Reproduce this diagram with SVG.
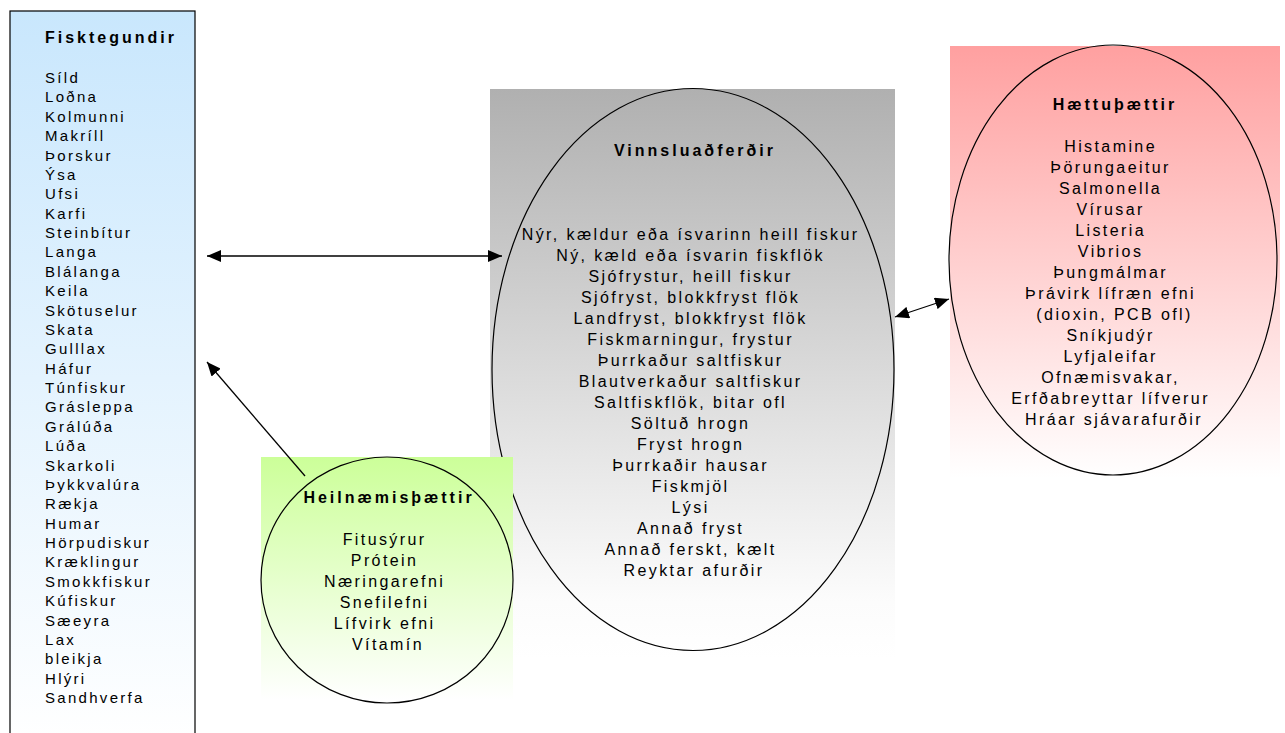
<svg xmlns="http://www.w3.org/2000/svg" width="1285" height="733" viewBox="0 0 1285 733">
<defs>
<linearGradient id="gBlue" x1="0" y1="0" x2="0" y2="1"><stop offset="0" stop-color="#c9e7fd"/><stop offset="1" stop-color="#ffffff"/></linearGradient>
<linearGradient id="gGray" x1="0" y1="0" x2="0" y2="1"><stop offset="0" stop-color="#b0b0b0"/><stop offset="0.9" stop-color="#fcfcfc"/><stop offset="1" stop-color="#ffffff"/></linearGradient>
<linearGradient id="gPink" x1="0" y1="0" x2="0" y2="1"><stop offset="0" stop-color="#ffa0a0"/><stop offset="1" stop-color="#ffffff"/></linearGradient>
<linearGradient id="gGreen" x1="0" y1="0" x2="0" y2="1"><stop offset="0" stop-color="#ccff99"/><stop offset="1" stop-color="#ffffff"/></linearGradient>
<marker id="ah" markerUnits="userSpaceOnUse" markerWidth="14" markerHeight="12" refX="14" refY="6" orient="auto-start-reverse"><path d="M0,0 L14,6 L0,12 z" fill="#000"/></marker>
<style>
text{font-family:"Liberation Sans",Arial,sans-serif;fill:#000}
.t{font-size:16px;font-weight:bold;letter-spacing:3px}
.b{font-size:16px;letter-spacing:2.4px}
.s{font-size:15px;letter-spacing:2.3px}
.c{text-anchor:middle}
.out{fill:none;stroke:#000;stroke-width:1.2}
.con{fill:none;stroke:#000;stroke-width:1.3;marker-end:url(#ah)}
.dbl{marker-start:url(#ah)}
</style>
</defs>

<g id="fisktegundir">
<rect x="10" y="11" width="185" height="735" fill="url(#gBlue)" stroke="#000" stroke-width="1.2"/>
<text class="t" x="45" y="43">Fisktegundir</text>
<text class="s">
<tspan x="45" y="83">Síld</tspan>
<tspan x="45" y="102.4">Loðna</tspan>
<tspan x="45" y="121.8">Kolmunni</tspan>
<tspan x="45" y="141.1">Makríll</tspan>
<tspan x="45" y="160.5">Þorskur</tspan>
<tspan x="45" y="179.9">Ýsa</tspan>
<tspan x="45" y="199.3">Ufsi</tspan>
<tspan x="45" y="218.6">Karfi</tspan>
<tspan x="45" y="238">Steinbítur</tspan>
<tspan x="45" y="257.4">Langa</tspan>
<tspan x="45" y="276.8">Blálanga</tspan>
<tspan x="45" y="296.1">Keila</tspan>
<tspan x="45" y="315.5">Skötuselur</tspan>
<tspan x="45" y="334.9">Skata</tspan>
<tspan x="45" y="354.3">Gulllax</tspan>
<tspan x="45" y="373.6">Háfur</tspan>
<tspan x="45" y="393">Túnfiskur</tspan>
<tspan x="45" y="412.4">Grásleppa</tspan>
<tspan x="45" y="431.8">Grálúða</tspan>
<tspan x="45" y="451.1">Lúða</tspan>
<tspan x="45" y="470.5">Skarkoli</tspan>
<tspan x="45" y="489.9">Þykkvalúra</tspan>
<tspan x="45" y="509.3">Rækja</tspan>
<tspan x="45" y="528.6">Humar</tspan>
<tspan x="45" y="548">Hörpudiskur</tspan>
<tspan x="45" y="567.4">Kræklingur</tspan>
<tspan x="45" y="586.8">Smokkfiskur</tspan>
<tspan x="45" y="606.1">Kúfiskur</tspan>
<tspan x="45" y="625.5">Sæeyra</tspan>
<tspan x="45" y="644.9">Lax</tspan>
<tspan x="45" y="664.3">bleikja</tspan>
<tspan x="45" y="683.6">Hlýri</tspan>
<tspan x="45" y="703">Sandhverfa</tspan>
</text>
</g>

<g id="vinnsluadferdir">
<rect x="490" y="89" width="405" height="570" fill="url(#gGray)"/>
<ellipse class="out" cx="693" cy="369.5" rx="201" ry="281"/>
<text class="t c" x="695" y="156">Vinnsluaðferðir</text>
<text class="b c">
<tspan x="694" y="240">Nýr, kældur eða ísvarinn heill fiskur</tspan>
<tspan x="694" y="261">Ný, kæld eða ísvarin fiskflök</tspan>
<tspan x="694" y="282">Sjófrystur, heill fiskur</tspan>
<tspan x="694" y="303">Sjófryst, blokkfryst flök</tspan>
<tspan x="694" y="324">Landfryst, blokkfryst flök</tspan>
<tspan x="694" y="345">Fiskmarningur, frystur</tspan>
<tspan x="694" y="366">Þurrkaður saltfiskur</tspan>
<tspan x="694" y="387">Blautverkaður saltfiskur</tspan>
<tspan x="694" y="408">Saltfiskflök, bitar ofl</tspan>
<tspan x="694" y="429">Söltuð hrogn</tspan>
<tspan x="694" y="450">Fryst hrogn</tspan>
<tspan x="694" y="471">Þurrkaðir hausar</tspan>
<tspan x="694" y="492">Fiskmjöl</tspan>
<tspan x="694" y="513">Lýsi</tspan>
<tspan x="694" y="534">Annað fryst</tspan>
<tspan x="694" y="555">Annað ferskt, kælt</tspan>
<tspan x="694" y="576">Reyktar afurðir</tspan>
</text>
</g>

<g id="haettuthaettir">
<rect x="950" y="46" width="330" height="432" fill="url(#gPink)"/>
<ellipse class="out" cx="1113" cy="260" rx="164" ry="215"/>
<text class="t c" x="1115" y="110">Hættuþættir</text>
<text class="b c">
<tspan x="1114" y="152">Histamine</tspan>
<tspan x="1114" y="173">Þörungaeitur</tspan>
<tspan x="1114" y="194">Salmonella</tspan>
<tspan x="1114" y="215">Vírusar</tspan>
<tspan x="1114" y="236">Listeria</tspan>
<tspan x="1114" y="257">Vibrios</tspan>
<tspan x="1114" y="278">Þungmálmar</tspan>
<tspan x="1114" y="299">Þrávirk lífræn efni</tspan>
<tspan x="1118" y="320">(dioxin, PCB ofl)</tspan>
<tspan x="1114" y="341">Sníkjudýr</tspan>
<tspan x="1114" y="362">Lyfjaleifar</tspan>
<tspan x="1114" y="383">Ofnæmisvakar,</tspan>
<tspan x="1114" y="404">Erfðabreyttar lífverur</tspan>
<tspan x="1114" y="425">Hráar sjávarafurðir</tspan>
</text>
</g>

<g id="heilnaemisthaettir">
<rect x="261" y="457" width="252" height="243" fill="url(#gGreen)"/>
<ellipse class="out" cx="387" cy="580" rx="126" ry="123"/>
<text class="t c" x="389" y="503">Heilnæmisþættir</text>
<text class="b c">
<tspan x="388" y="545">Fitusýrur</tspan>
<tspan x="388" y="566">Prótein</tspan>
<tspan x="388" y="587">Næringarefni</tspan>
<tspan x="388" y="608">Snefilefni</tspan>
<tspan x="388" y="629">Lífvirk efni</tspan>
<tspan x="388" y="650">Vítamín</tspan>
</text>
</g>

<g id="connectors">
<line class="con dbl" x1="207" y1="256" x2="502" y2="256"/>
<line class="con" x1="305" y1="476" x2="207" y2="362"/>
<line class="con dbl" x1="895" y1="317" x2="949" y2="299"/>
</g>
</svg>
